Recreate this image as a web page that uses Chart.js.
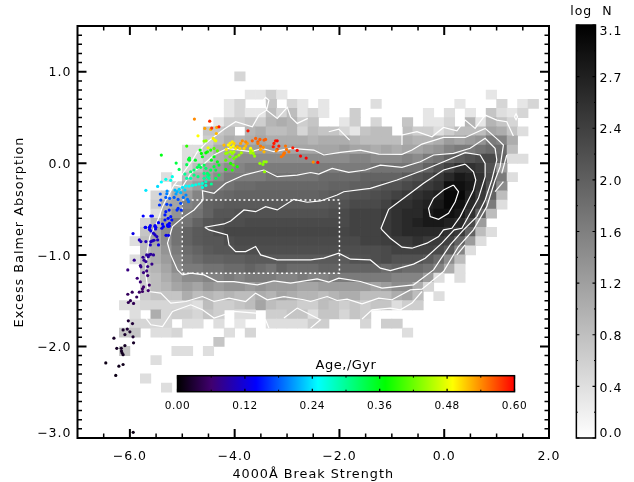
<!DOCTYPE html>
<html>
<head>
<meta charset="utf-8">
<title>Excess Balmer Absorption vs 4000A Break Strength</title>
<script src="https://cdn.jsdelivr.net/npm/chart.js@4"></script>
<style>
  html, body { margin: 0; padding: 0; background: #fff; }
  canvas { position: absolute; display: block; }
</style>
</head>
<body>
<canvas id="main" width="634" height="482" style="left:0;top:0"></canvas>
<canvas id="logBar" width="86" height="482" style="left:548px;top:0"></canvas>
<canvas id="ageBar" width="390" height="65" style="left:150px;top:355px"></canvas>
<script>
// axes
const xTickValues = [-6, -4, -2, 0, 2];
const yTickValues = [-3, -2, -1, 0, 1];
const yLabelAt = [-2.95, -2.015, -1.015, -0.015, 0.985];
const yLabels = ['\u22123.0', '\u22122.0', '\u22121.0', '0.0', '1.0'];
const logBarTicks = [0, 0.3875, 0.775, 1.1625, 1.55, 1.9375, 2.325, 2.7125, 3.1];
const logBarLabelAt = [0.03, 0.37, 0.76, 1.15, 1.535, 1.92, 2.31, 2.70, 3.05];
const logBarLabels = ['0.0', '0.4', '0.8', '1.2', '1.6', '2.0', '2.4', '2.7', '3.1'];
const ageBarTicks = [0, 0.12, 0.24, 0.36, 0.48, 0.6];
const ageStops = [0, 0.06, 0.14, 0.25, 0.37, 0.49, 0.6];
const ageColors = [[0, 0, 0], [64, 0, 110], [0, 0, 255], [0, 255, 255], [0, 255, 0], [255, 255, 0], [255, 0, 0]];

// 2d histogram, log N per 0.2 x 0.1 bin. rows go down from y=1.0, columns go right from x=-6.2
const binX0 = -6.2, binW = 0.2, binY0 = 1.0, binH = 0.1;
const logNRows = [
  [0,0,0,0,0,0,0,0,0,0, 0,.5],
  [],
  [0,0,0,0,0,0,0,0,0,0, 0,0,.3,.3,.6,.3,0,0,0,0, 0,0,0,0,0,0,0,0,0,0, 0,0,0,0,0,.3],
  [0,0,0,0,0,0,0,0,0,0, .3,.5,0,0,.7,0,.5,.3,0,.3, 0,0,0,0,.4,0,0,0,0,0, 0,0,.3,0,0,0,.5,0,.3,.5],
  [0,0,0,0,0,0,0,0,0,0, .3,.5,.3,.3,.8,.5,.8,.3,.5,.3, 0,0,.6,0,0,0,0,0,0,.3, 0,.4,0,.3,0,.7,.4,.3,.5,0],
  [0,0,0,0,0,0,0,0,0,.3, .6,.6,.7,.6,.9,1,.9,.6,.7,0, 0,.3,.6,0,.5,0,0,.7,0,.3, .3,.5,0,.9,.3,.9,.7,.5,0,0],
  [0,0,0,0,0,0,0,0,.7,.7, .8,0,.9,1,.8,.8,.9,.5,.8,.7, .7,.5,.3,.7,.8,.8,0,.8,.6,.6, .4,.6,.8,.8,.8,1.1,1,.7,.4,0],
  [0,0,0,0,0,0,0,0,.6,.8, 1,.9,1,1.1,1,1,1,1,.9,1, 1,1,.9,.8,.8,.8,.8,1,.9,.9, 1,1.2,1.1,1.2,1.3,1.6,1.5,1,0,0],
  [0,0,0,0,0,0,.4,.4,.7,1, 1.1,1.2,1.2,1.2,1.2,1.1,1.1,1.1,1.1,1.1, 1.1,1.2,1.1,1.1,1,1.1,1,1.1,1.1,1.2, 1.3,1.5,1.6,1.6,1.7,1.8,1.8,.8,0,0],
  [0,0,0,0,0,0,.4,.5,.7,1, 1.1,1.4,1.4,1.4,1.4,1.4,1.4,1.4,1.4,1.4, 1.4,1.4,1.5,1.5,1.4,1.4,1.4,1.5,1.4,1.6, 1.7,1.9,2,2.1,2.2,2.2,1.9,.4,.4,0],
  [0,0,0,0,0,0,.5,.8,1.1,1.2, 1.4,1.5,1.6,1.6,1.6,1.6,1.6,1.6,1.6,1.6, 1.6,1.6,1.6,1.6,1.7,1.7,1.7,1.7,1.7,1.9, 2.1,2.3,2.5,2.5,2.4,2.1,1.2,0,0,0],
  [0,0,0,0,.4,0,.8,1,1.2,1.4, 1.6,1.6,1.6,1.6,1.7,1.7,1.7,1.7,1.7,1.8, 1.8,1.8,1.8,1.9,1.9,1.9,1.9,2,2.1,2.2, 2.4,2.6,2.8,2.7,2.5,2.2,1.6,.4,0,0],
  [0,0,0,0,0,.6,1,1.2,1.6,1.6, 1.7,1.8,1.8,1.85,1.85,1.85,1.85,1.85,1.85,1.85, 1.9,1.9,1.95,1.95,2,2.1,2.1,2.2,2.3,2.4, 2.5,2.9,2.9,2.8,2.5,2.1,1.4,0,0,0],
  [0,0,0,.5,.6,1,1.2,1.5,1.7,1.8, 1.85,1.9,1.9,1.9,1.9,1.9,1.9,1.9,1.9,1.95, 2,2,2.1,2.1,2.15,2.2,2.3,2.4,2.5,2.6, 2.7,3,3,2.7,2.4,1.9,.8,0,0,0],
  [0,0,0,.6,1,1.1,1.5,1.6,1.9,1.95, 2,2,2,2,2,2,2,2,2,2, 2.05,2.1,2.2,2.2,2.2,2.3,2.5,2.5,2.6,2.7, 2.8,3,2.9,2.6,2.3,1.6,.4,0,0,0],
  [0,0,0,.4,1,1.3,1.6,1.7,1.9,2.05, 2.05,2.1,2.1,2.1,2.1,2.1,2.1,2.1,2.1,2.1, 2.15,2.2,2.3,2.3,2.3,2.4,2.5,2.6,2.6,2.8, 2.9,2.9,2.8,2.5,1.9,.8,0,0,0,0],
  [0,0,.5,.9,1.2,1.6,1.7,1.9,2.05,2.1, 2.15,2.15,2.2,2.2,2.2,2.2,2.2,2.2,2.2,2.2, 2.2,2.2,2.3,2.3,2.3,2.4,2.5,2.6,2.7,2.8, 2.8,2.7,2.6,2.2,1.2,0,0,0,0,0],
  [0,0,.7,1.1,1.4,1.7,1.9,2,2.05,2.15, 2.25,2.25,2.25,2.25,2.25,2.25,2.25,2.25,2.25,2.25, 2.25,2.25,2.3,2.3,2.3,2.4,2.5,2.6,2.6,2.6, 2.6,2.5,2.4,1.9,.8,.4,0,0,0,0],
  [0,.4,.8,1.1,1.4,1.7,1.9,2,2.05,2.05, 2.15,2.2,2.2,2.2,2.2,2.2,2.2,2.2,2.2,2.2, 2.2,2.2,2.2,2.3,2.3,2.35,2.4,2.4,2.5,2.4, 2.4,2.3,1.9,1.2,.4,0,0,0,0,0],
  [0,0,.8,1,1.3,1.6,1.8,1.9,2,2.05, 2.05,2.15,2.15,2.15,2.15,2.15,2.15,2.15,2.15,2.15, 2.15,2.15,2.15,2.15,2.15,2.2,2.3,2.3,2.3,2.3, 2.2,2,1.5,.4,0,0,0,0,0,0],
  [0,.4,.8,1,1.2,1.5,1.7,1.8,1.9,1.9, 1.95,1.95,2,2,2,2,2,2,2,2, 2,2,2.1,2.1,2.15,2.2,2.1,2.1,2.1,2, 1.8,1.4,.8,0,0,0,0,0,0,0],
  [0,0,.8,.9,1.1,1.4,1.6,1.6,1.7,1.7, 1.8,1.8,1.9,1.8,1.7,1.9,1.8,1.8,1.8,1.9, 1.9,1.9,1.9,1.9,1.9,1.8,1.9,1.8,1.8,1.7, 1.5,1,.4,0,0,0,0,0,0,0],
  [0,0,.7,.8,1,1.2,1.4,1.4,1.5,1.5, 1.6,1.5,1.6,1.6,1.6,1.5,1.5,1.6,1.5,1.5, 1.6,1.6,1.6,1.6,1.6,1.6,1.5,1.5,1.5,1.2, .4,0,.4],
  [0,0,.6,.8,.9,1.1,1.2,1.1,1.3,1.2, 1.3,1.3,1.2,1.3,1.2,1.2,1.2,1.1,1.1,1.2, 1.2,1.2,1.2,1.2,1.1,1.2,1.4,1.4,1,.5],
  [0,0,.6,.7,.7,.7,1,.8,.9,.8, .9,.8,.8,1,.9,1.1,1,.9,.9,.8, .9,1,1,.8,.8,.8,1,1.1,.8,0, .4],
  [.4,.4,.5,.5,.5,.5,.5,.4,.8,.6, .6,.7,.8,1.1,.8,.7,.7,.6,.6,.8, .7,.6,.7,.6,.7,.7,.4,.6,.6],
  [0,.4,0,1,.5,.6,.6,.5,.7,.6, 0,.4,.4,0,.6,.6,.7,.7,.4,.7, .7,.5,.7,.6],
  [0,.5,.5,.5,.5,0,.4,.4,0,.4, 0,.3,0,0,.4,.4,.4,.4,.6,.6, 0,0,0,.5,0,.6,.6],
  [.7,.7,0,.4,.4,.5,0,0,0,0, .4,0,.5,0,0,0,0,0,0,0, 0,0,0,0,0,0,0,.4],
  [0,0,0,0,0,0,0,0,0,.7],
  [.7,0,0,0,0,.4,.4,0,.4],
  [0,0,0,.4],
  [],
  [0,0,.4],
  [0,0,0,0,.4]
];

// density contours, [x, y]
const contour1 = [[.178,-.237],[.273,-.31],[.21,-.419],[.082,-.545],[-.108,-.611],[-.267,-.582],[-.299,-.491],[-.204,-.382],[-.013,-.291],[.178,-.237]];
const contour2 = [[.4,-.008],[.558,-.092],[.603,-.182],[.558,-.291],[.432,-.436],[.305,-.582],[.146,-.709],[-.013,-.727],[-.108,-.8],[-.33,-.872],[-.615,-.927],[-.806,-.916],[-1.03,-.818],[-1.187,-.727],[-1.206,-.709],[-1.06,-.502],[-.775,-.382],[-.394,-.218],[-.013,-.073],[.4,-.008]];
const contour3 = [[-4.571,-.698],[-4.204,-.662],[-4.076,-.63],[-3.823,-.509],[-3.6,-.528],[-3.41,-.473],[-3.187,-.509],[-2.87,-.393],[-2.615,-.425],[-2.362,-.411],[-2.044,-.346],[-1.918,-.31],[-1.41,-.273],[-.9,-.182],[-.394,-.073],[-.013,.017],[.4,.116],[.686,.091],[.781,0],[.781,-.146],[.653,-.382],[.495,-.545],[.337,-.709],[.19,-.727],[-.044,-.872],[-.362,-1.036],[-.585,-1.101],[-1.029,-1.171],[-1.219,-1.145],[-1.41,-1.055],[-1.79,-1.047],[-2.013,-.981],[-2.299,-1.036],[-2.552,-1.055],[-3.187,-1.055],[-3.505,-1],[-3.6,-.909],[-3.79,-.964],[-3.981,-.964],[-4.108,-.891],[-4.139,-.782],[-4.49,-.727],[-4.571,-.698]];
const contour4 = [[-4.996,-1.218],[-4.838,-1.2],[-4.585,-1.218],[-4.33,-1.291],[-4.013,-1.291],[-3.568,-1.327],[-3.251,-1.283],[-2.933,-1.309],[-2.425,-1.262],[-2.204,-1.298],[-2.013,-1.254],[-1.6,-1.291],[-1.187,-1.363],[-.996,-1.352],[-.585,-1.327],[-.204,-1.164],[.114,-.891],[.368,-.727],[.623,-.582],[.781,-.4],[.908,-.182],[1.004,.036],[.971,.164],[.781,.273],[.495,.164],[.178,.109],[-.204,.091],[-.457,.017],[-.806,-.044],[-1.219,-.019],[-1.505,-.073],[-1.823,-.098],[-2.139,-.055],[-2.394,-.117],[-2.55,-.1],[-2.806,-.128],[-3.187,-.146],[-3.442,-.073],[-3.823,-.128],[-4.171,-.218],[-4.394,-.327],[-4.615,-.299],[-4.604,-.4],[-4.775,-.509],[-4.966,-.582],[-5.187,-.691],[-5.282,-.872],[-5.219,-1],[-5.091,-1.164],[-4.996,-1.218]];
const contour5 = [[-5.651,-1.4],[-5.41,-1.418],[-5.219,-1.527],[-4.933,-1.509],[-4.615,-1.455],[-4.394,-1.509],[-4.108,-1.472],[-3.79,-1.509],[-3.6,-1.418],[-3.377,-1.49],[-3.06,-1.455],[-2.68,-1.49],[-2.552,-1.509],[-2.234,-1.455],[-2.044,-1.498],[-1.853,-1.483],[-1.568,-1.534],[-1.251,-1.472],[-.996,-1.49],[-.648,-1.382],[-.425,-1.374],[-.013,-1.182],[.272,-.909],[.558,-.727],[.813,-.473],[.971,-.182],[1.067,-.036],[1.13,.2],[1.034,.254],[.781,.382],[.4,.283],[-.013,.283],[-.425,.21],[-.615,.145],[-.806,.098],[-1.251,.101],[-1.6,.145],[-1.981,.12],[-2.299,.091],[-2.489,.145],[-2.933,.164],[-3.251,.127],[-3.472,.164],[-3.695,.127],[-4.139,.164],[-4.394,.091],[-4.648,-.037],[-4.838,-.109],[-4.996,-.255],[-5.156,-.237],[-5.282,-.364],[-5.377,-.473],[-5.442,-.582],[-5.505,-.673],[-5.62,-.8],[-5.68,-1],[-5.7,-1.2],[-5.651,-1.4]];
const contourBitsUpperLeft = [[-5.156,-.237],[-5.03,-.146],[-4.806,.036],[-4.71,.127],[-4.552,.218],[-4.394,.29],[-4.204,.371],[-3.981,.454],[-3.663,.4],[-3.537,.527],[-3.39,.581],[-3.346,.69],[-3.41,.72],[-3.45,.69],[-3.39,.581],[-3.187,.491],[-2.996,.611],[-2.933,.508],[-2.806,.436],[-2.604,.491]];
const contourBitsTop = [[-2.204,.345],[-2.013,.374],[-1.804,.254]];
const contourBitsUpperRight = [[-.806,.4],[-.806,.2],[-.806,.309],[-.52,.345],[-.234,.29],[-.013,.392],[.242,.355],[.4,.472],[.59,.382],[.781,.527],[1.004,.472],[1.194,.454],[1.32,.298]];
const contourBitsDiamond = [[1.34,.508],[1.371,.54],[1.4,.508],[1.371,.476],[1.34,.508]];
const contourBitsRight1 = [[1.13,-.2],[.971,-.31]];
const contourBitsRight2 = [[1.194,.091],[1.099,-.109]];
const contourBitsRight3 = [[.4,-.891],[.242,-1]];
const contourBitsLower1 = [[-.425,-1.4],[-.615,-1.527],[-.838,-1.6],[-1.029,-1.581],[-1.377,-1.6],[-1.568,-1.7]];
const contourBitsLower2 = [[-5.695,-1.69],[-5.6,-1.763],[-5.377,-1.782],[-5.187,-1.618],[-4.838,-1.545],[-4.615,-1.6],[-4.394,-1.69],[-4.013,-1.618],[-3.6,-1.636],[-3.41,-1.709],[-3.346,-1.8]];
const contourBitsLower3 = [[-3.06,-1.69],[-2.806,-1.581],[-2.552,-1.654],[-2.362,-1.709],[-2.552,-1.8]];
const contours = [contour1, contour2, contour3, contour4, contour5, contourBitsUpperLeft, contourBitsTop, contourBitsUpperRight, contourBitsDiamond, contourBitsRight1, contourBitsRight2, contourBitsRight3, contourBitsLower1, contourBitsLower2, contourBitsLower3];

// dotted selection box
const boxX = [-5, -2, -2, -5, -5];
const boxY = [-.4, -.4, -1.2, -1.2, -.4];

// model track points, [x, y, age in Gyr]
const agePoints = [
  [-5.937,-2.938,.01],[-6.27,-2.317,.012],[-6.46,-2.18,.012],[-6.21,-2.215,.015],[-6.13,-2.197,.015],[-6.13,-2.09,.018],[-6.15,-2.07,.018],[-6.16,-2.05,.02],[-6.165,-2.02,.02],[-6.25,-2.02,.02],[-6.095,-1.99,.02],[-5.93,-1.96,.022],[-6.305,-1.91,.022],[-6.095,-1.87,.025],[-5.94,-1.895,.025],[-6,-1.84,.025],[-6.13,-1.82,.025],[-6.05,-1.81,.03],[-5.95,-1.75,.03],[-6.03,-1.72,.03],
  [-5.93,-1.53,.045],[-6.03,-1.52,.045],[-5.99,-1.5,.045],[-6.04,-1.43,.05],[-5.956,-1.407,.05],[-5.87,-1.46,.05],[-5.82,-1.407,.055],[-5.76,-1.4,.055],[-5.76,-1.37,.055],[-5.74,-1.35,.06],[-5.65,-1.39,.06],[-5.63,-1.33,.06],[-5.8,-1.295,.065],[-5.66,-1.226,.065],[-5.86,-1.255,.065],[-5.74,-1.193,.07],[-6.04,-1.164,.07],[-5.68,-1.175,.07],[-5.79,-1.13,.075],[-5.8,-1.117,.075],[-5.66,-1.127,.075],[-5.58,-1.1,.075],[-5.917,-1.058,.08],[-5.695,-1.073,.08],[-5.73,-1.058,.08],[-5.75,-1.026,.08],[-5.68,-1,.085],[-5.63,-1,.085],[-5.6,-.993,.085],[-5.55,-1,.085],[-5.65,-1.02,.085],
  [-5.82,-.837,.1],[-5.79,-.855,.1],[-5.695,-.855,.1],[-5.61,-.891,.105],[-5.6,-.855,.1],[-5.57,-.848,.1],[-5.54,-.84,.1],[-5.47,-.837,.105],[-5.52,-.782,.105],[-5.486,-.8,.105],[-5.55,-.764,.11],[-5.454,-.891,.125],[-5.31,-.786,.13],[-5.264,-.786,.13],
  [-5.94,-.767,.125],[-5.7,-.7,.13],[-5.625,-.7,.13],[-5.625,-.724,.125],[-5.6,-.738,.125],[-5.52,-.688,.13],[-5.51,-.717,.125],[-5.39,-.709,.13],[-5.28,-.684,.135],[-5.245,-.684,.135],
  [-5.746,-.575,.14],[-5.6,-.575,.14],[-5.57,-.575,.14],[-5.708,-.699,.135],[-5.625,-.699,.135],[-5.61,-.681,.135],[-5.52,-.681,.135],[-5.505,-.699,.135],[-5.454,-.648,.14],[-5.378,-.663,.14],[-5.36,-.69,.14],[-5.28,-.673,.14],[-5.245,-.655,.14],[-5.264,-.69,.14],[-5.33,-.619,.145],[-5.27,-.601,.145],[-5.2,-.619,.145],[-5.33,-.564,.15],[-5.314,-.528,.15],[-5.25,-.51,.15],[-5.22,-.583,.15],[-5.295,-.448,.165],[-5.22,-.455,.165],[-5.435,-.455,.16],[-5.41,-.401,.17],[-5.42,-.335,.18],
  [-5.695,-.295,.24],[-5.47,-.252,.235],[-5.4,-.204,.25],[-5.314,-.175,.26],[-5.22,-.186,.26],[-5.19,-.146,.26],[-5.29,-.303,.2],[-5.295,-.332,.195],[-5.314,-.372,.18],[-5.24,-.383,.18],[-5.156,-.372,.18],[-5.08,-.394,.175],[-5.03,-.437,.17],[-5.08,-.492,.16],[-5.02,-.51,.16],[-5.1,-.51,.16],[-4.98,-.372,.19],[-4.93,-.346,.2],[-4.9,-.394,.19],[-4.88,-.419,.19],[-5.14,-.292,.22],[-5.1,-.31,.22],[-5.06,-.284,.23],[-5.03,-.32,.22],[-5.12,-.335,.21],
  [-4.997,-.263,.24],[-4.93,-.248,.25],[-4.87,-.248,.25],[-4.806,-.241,.26],[-4.743,-.234,.26],[-4.68,-.226,.265],[-4.616,-.219,.27],[-4.55,-.241,.27],[-4.616,-.263,.265],[-4.95,-.292,.23],[-4.55,-.201,.28],[-4.49,-.164,.3],[-4.52,-.146,.3],[-4.445,-.226,.3],[-4.95,-.117,.3],[-4.915,-.164,.29],[-4.84,-.164,.29],
  [-5.06,-.066,.33],[-4.915,-.015,.33],[-5.117,.003,.34],[-5.4,.09,.36],[-4.915,.188,.39],[-4.864,.057,.35],[-4.864,.035,.35],[-4.88,.043,.35],[-4.75,.035,.35],[-4.68,-.019,.33],[-4.71,-.044,.33],[-4.65,-.044,.33],[-4.584,-.019,.33],[-4.55,-.055,.32],[-4.775,-.074,.32],[-4.84,-.092,.32],[-4.775,-.128,.31],[-4.7,-.146,.31],[-4.66,.145,.37],[-4.635,.108,.37],[-4.616,.072,.36],[-4.52,.126,.38],[-4.55,.115,.37],[-4.457,.145,.39],[-4.445,.035,.36],[-4.394,.072,.36],[-4.33,.017,.36],[-4.394,-.037,.34],[-4.457,-.074,.33],[-4.36,-.074,.34],[-4.3,-.019,.35],[-4.584,-.11,.31],[-4.52,-.11,.32],[-4.584,-.164,.3],[-4.49,-.128,.32],[-4.3,-.128,.34],[-4.36,-.164,.33],
  [-4.394,.163,.41],[-4.33,.137,.41],[-4.7,.301,.49],[-4.584,.243,.44],[-4.546,.246,.44],[-4.508,.17,.48],[-4.41,.272,.5],[-4.38,.254,.48],[-4.36,.246,.48],[-4.768,.483,.54],[-4.476,.461,.58],[-4.57,.381,.53],[-4.457,.37,.52],[-4.438,.385,.58],[-4.343,.392,.53],[-4.3,.399,.59],[-4.35,.326,.52],
  [-4.16,.152,.5],[-4.12,.199,.49],[-4.09,.217,.5],[-4.077,.174,.49],[-4.045,.235,.5],[-4.013,.217,.51],[-4.026,.188,.49],[-3.98,.163,.5],[-4.204,.199,.52],
  [-4.17,.108,.44],[-4.14,.115,.44],[-4.077,.126,.45],[-4.045,.108,.44],[-4.013,.126,.45],[-4.09,.072,.42],[-4.17,.035,.41],[-4.013,.054,.42],[-3.97,.072,.43],[-3.918,.09,.44],[-3.873,.115,.45],[-4.026,-.019,.41],[-4.045,-.074,.39],[-4.17,-.066,.37],[-3.95,-.037,.38],[-4.077,-.001,.38],
  [-3.95,.181,.52],[-3.9,.163,.51],[-3.886,.217,.53],[-3.854,.246,.54],[-3.79,.188,.52],[-3.76,.217,.53],[-3.79,.235,.54],[-3.696,.163,.49],[-3.664,.137,.47],[-3.746,.355,.59],[-3.82,.163,.51],
  [-3.664,.246,.56],[-3.6,.272,.56],[-3.518,.261,.56],[-3.556,.235,.56],[-3.505,.188,.55],[-3.556,.217,.55],[-3.454,.174,.54],[-3.44,.254,.56],[-3.41,.261,.56],
  [-3.696,.137,.45],[-3.645,.108,.44],[-3.62,.079,.44],[-3.696,.115,.45],[-3.518,0,.44],[-3.44,.017,.44],[-3.397,.017,.44],[-3.46,-.012,.43],[-3.43,-.092,.44],[-3.505,.152,.53],[-3.44,.126,.52],
  [-3.25,.217,.59],[-3.22,.246,.59],[-3.188,.246,.6],[-3.264,.181,.59],[-3.156,.188,.59],[-3.188,.152,.57],
  [-3.207,.137,.54],[-3.11,.072,.55],[-3.06,.108,.55],[-3.01,.152,.55],[-3.03,.188,.55],[-2.965,.126,.55],[-3.048,.115,.55],[-3.073,.09,.55],
  [-2.89,.17,.59],[-2.807,.141,.6],[-2.743,.079,.6],[-2.635,.057,.6],[-2.5,.014,.54],[-2.413,.01,.6]
];

// little helpers
function grey(v) {
  const g = Math.round(255 * (1 - v / 3.1));
  return 'rgb(' + g + ',' + g + ',' + g + ')';
}

function ageColor(age) {
  let i = 0;
  while (i < ageStops.length - 2 && age > ageStops[i + 1]) i++;
  const t = Math.min(1, (age - ageStops[i]) / (ageStops[i + 1] - ageStops[i]));
  const c = ageColors[i].map((a, k) => Math.round(a + (ageColors[i + 1][k] - a) * t));
  return 'rgb(' + c.join(',') + ')';
}

function between(from, to, step, skip) {
  const out = [];
  for (let i = 0; from + i * step <= to + 1e-9; i++) {
    const v = from + i * step;
    if (!skip.some(s => Math.abs(s - v) < 1e-6)) out.push(v);
  }
  return out;
}

// the reference text is spaced out a bit wider than the font
function spacing(px) {
  return {
    id: 'spacing',
    beforeDraw(chart) { chart.ctx.letterSpacing = px; }
  };
}

// draws the frame and IDL style inward ticks on all sides, through the chart's scales
function frameTicks(marks, frameWidth) {
  return {
    id: 'frameTicks',
    afterDatasetsDraw(chart) {
      const { ctx, chartArea: a } = chart;
      ctx.save();
      ctx.strokeStyle = '#000';
      marks.forEach(m => {
        const scale = chart.scales[m.scale];
        ctx.lineWidth = m.width;
        m.at.forEach(v => {
          const p = scale.getPixelForValue(v);
          ctx.beginPath();
          if (scale.isHorizontal()) {
            ctx.moveTo(p, a.top); ctx.lineTo(p, a.top + m.len);
            ctx.moveTo(p, a.bottom); ctx.lineTo(p, a.bottom - m.len);
          } else {
            ctx.moveTo(a.left, p); ctx.lineTo(a.left + m.len, p);
            ctx.moveTo(a.right, p); ctx.lineTo(a.right - m.len, p);
          }
          ctx.stroke();
        });
      });
      ctx.lineWidth = frameWidth;
      ctx.strokeRect(a.left, a.top, a.right - a.left, a.bottom - a.top);
      ctx.restore();
    }
  };
}

const fontName = '"DejaVu Sans", sans-serif';
const signed = v => (v < 0 ? '\u2212' : '') + Math.abs(v).toFixed(1);
const noGrid = { display: false, drawTicks: false, offset: false };

// histogram cells as floating bars
const cells = [];
const cellColors = [];
logNRows.forEach((row, r) => {
  row.forEach((v, c) => {
    if (v > 0) {
      const xc = binX0 + (c + 0.5) * binW;
      const top = binY0 - r * binH;
      cells.push({ x: xc, y: [top - binH, top] });
      cellColors.push(grey(v));
    }
  });
});

const datasets = [{
  type: 'bar',
  data: cells,
  backgroundColor: cellColors,
  barThickness: 10.5,
  grouped: false,
  order: 5
}];
contours.forEach(line => {
  datasets.push({
    type: 'scatter',
    showLine: true,
    data: line.map(p => ({ x: p[0], y: p[1] })),
    borderColor: '#fff',
    borderWidth: 1.2,
    pointRadius: 0,
    order: 3
  });
});
datasets.push({
  type: 'scatter',
  showLine: true,
  data: boxX.map((x, i) => ({ x: x, y: boxY[i] })),
  borderColor: '#fff',
  borderWidth: 1.5,
  borderDash: [2, 2.7],
  pointRadius: 0,
  order: 2
});
datasets.push({
  type: 'scatter',
  data: agePoints.map(p => ({ x: p[0], y: p[1] })),
  backgroundColor: agePoints.map(p => ageColor(p[2])),
  pointRadius: 1.6,
  borderWidth: 0,
  order: 1
});

new Chart(document.getElementById('main'), {
  type: 'bar',
  data: { datasets: datasets },
  options: {
    responsive: false,
    animation: false,
    events: [],
    layout: { padding: { left: 0, right: 85, top: 26, bottom: 0 } },
    plugins: { legend: { display: false }, tooltip: { enabled: false } },
    scales: {
      x: {
        type: 'linear', min: -7, max: 2, offset: false,
        grid: noGrid, border: { display: false },
        afterBuildTicks: s => { s.ticks = xTickValues.map(v => ({ value: v })); },
        afterFit: s => { s.height = 44; },
        ticks: { callback: signed, maxRotation: 0, autoSkip: false, padding: 11.5, color: '#000', font: { family: fontName, size: 12.5 } },
        title: { display: true, text: '4000\u00c5 Break Strength', color: '#000', font: { family: fontName, size: 12.8 }, padding: { top: 4, bottom: 0 } }
      },
      y: {
        type: 'linear', min: -3, max: 1.5,
        grid: noGrid, border: { display: false },
        afterBuildTicks: s => { s.ticks = yLabelAt.map(v => ({ value: v })); },
        afterFit: s => { s.width = 77.5; },
        ticks: { callback: (v, i) => yLabels[i], autoSkip: false, padding: 6, color: '#000', font: { family: fontName, size: 12.5 } },
        title: { display: true, text: 'Excess Balmer Absorption', color: '#000', font: { family: fontName, size: 12.8 }, padding: { top: 12, bottom: 0 } }
      }
    }
  },
  plugins: [spacing('1px'), frameTicks([
    { scale: 'x', at: between(-6.5, 1.5, 0.5, xTickValues), len: 4.5, width: 1.5 },
    { scale: 'x', at: xTickValues, len: 9, width: 2 },
    { scale: 'y', at: between(-2.9, 1.4, 0.1, yTickValues), len: 4.5, width: 1.5 },
    { scale: 'y', at: yTickValues, len: 9, width: 2 }
  ], 2)]
});

// log N colour bar, its name is the tick label of a category axis on top
new Chart(document.getElementById('logBar'), {
  type: 'bar',
  data: {
    labels: ['log  N'],
    datasets: [{
      data: [[0, 3.1]],
      barPercentage: 1,
      categoryPercentage: 1,
      backgroundColor: ctx => {
        const a = ctx.chart.chartArea;
        if (!a) return '#888';
        const g = ctx.chart.ctx.createLinearGradient(0, a.top, 0, a.bottom);
        g.addColorStop(0, '#000');
        g.addColorStop(1, '#fff');
        return g;
      }
    }]
  },
  options: {
    responsive: false,
    animation: false,
    events: [],
    layout: { padding: { left: 27.5, right: 0, top: 0, bottom: 44 } },
    plugins: { legend: { display: false }, tooltip: { enabled: false } },
    scales: {
      x: {
        position: 'top',
        grid: noGrid, border: { display: false },
        afterFit: s => { s.height = 25; },
        ticks: { autoSkip: false, maxRotation: 0, padding: 6, labelOffset: 5.5, color: '#000', font: { family: fontName, size: 12.5 } }
      },
      y: {
        position: 'right', min: 0, max: 3.1,
        grid: noGrid, border: { display: false },
        afterBuildTicks: s => { s.ticks = logBarLabelAt.map(v => ({ value: v })); },
        afterFit: s => { s.width = 38.5; },
        ticks: { callback: (v, i) => logBarLabels[i], autoSkip: false, padding: 4, color: '#000', font: { family: fontName, size: 12.5 } }
      }
    }
  },
  plugins: [spacing('1px'), frameTicks([
    { scale: 'y', at: logBarTicks, len: 3, width: 1.2 },
    { scale: 'y', at: logBarTicks.slice(1).map(v => v - 0.19375), len: 1.5, width: 1 }
  ], 1.5)]
});

// age colour bar, sits on top of the main plot
new Chart(document.getElementById('ageBar'), {
  type: 'bar',
  data: {
    labels: ['Age'],
    datasets: [{
      data: [[0, 0.6]],
      barPercentage: 1,
      categoryPercentage: 1,
      backgroundColor: ctx => {
        const a = ctx.chart.chartArea;
        if (!a) return '#888';
        const g = ctx.chart.ctx.createLinearGradient(a.left, 0, a.right, 0);
        ageStops.forEach((s, i) => g.addColorStop(s / 0.6, 'rgb(' + ageColors[i].join(',') + ')'));
        return g;
      }
    }]
  },
  options: {
    indexAxis: 'y',
    responsive: false,
    animation: false,
    events: [],
    layout: { padding: { left: 27.5, right: 25.5, top: 0, bottom: 0 } },
    plugins: {
      legend: { display: false },
      tooltip: { enabled: false },
      title: { display: true, text: 'Age,/Gyr', color: '#000', font: { family: fontName, size: 13, weight: 'normal', lineHeight: 1 }, padding: { top: 4.2, bottom: 3.5 } }
    },
    scales: {
      y: { display: false },
      x: {
        min: 0, max: 0.6,
        grid: noGrid, border: { display: false },
        afterBuildTicks: s => { s.ticks = ageBarTicks.map(v => ({ value: v })); },
        afterFit: s => { s.height = 28.3; },
        ticks: { callback: v => v.toFixed(2), autoSkip: false, maxRotation: 0, padding: 8, color: '#000', font: { family: fontName, size: 10.5 } }
      }
    }
  },
  plugins: [spacing('0.5px'), frameTicks([
    { scale: 'x', at: ageBarTicks, len: 3, width: 1.2 },
    { scale: 'x', at: [0.06, 0.18, 0.3, 0.42, 0.54], len: 2, width: 1 }
  ], 1.5)]
});
</script>
</body>
</html>
